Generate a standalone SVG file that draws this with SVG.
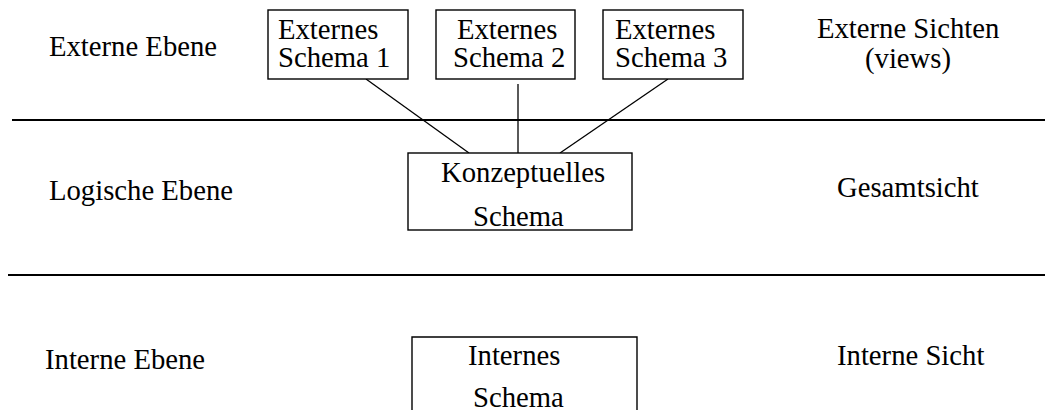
<svg xmlns="http://www.w3.org/2000/svg" width="1045" height="410" viewBox="0 0 1045 410">
  <style>
    text { font-family: "Liberation Serif", "Times New Roman", serif; font-size: 28.7px; fill: #000; }
    .box { fill: #fff; stroke: #000; stroke-width: 1.4; }
    .rule { stroke: #000; stroke-width: 2; }
    .link { stroke: #000; stroke-width: 1.3; fill: none; }
  </style>
  <rect width="1045" height="410" fill="#fff"/>

  <!-- level separators -->
  <g id="rules">
    <line class="rule" x1="12" y1="120" x2="1045" y2="120"/>
    <line class="rule" x1="8" y1="275" x2="1045" y2="275"/>
  </g>

  <!-- level labels (left) -->
  <g id="labels-left">
    <text x="49" y="56">Externe Ebene</text>
    <text x="49" y="200">Logische Ebene</text>
    <text x="45" y="369">Interne Ebene</text>
  </g>

  <!-- view labels (right) -->
  <g id="labels-right">
    <text x="817" y="38">Externe Sichten</text>
    <text x="865" y="68">(views)</text>
    <text x="837" y="197">Gesamtsicht</text>
    <text x="837" y="365">Interne Sicht</text>
  </g>

  <!-- connectors between external schemas and conceptual schema -->
  <g id="connectors">
    <line class="link" x1="366" y1="79" x2="469" y2="153"/>
    <line class="link" x1="518" y1="84" x2="518" y2="153"/>
    <line class="link" x1="668" y1="79" x2="560" y2="153"/>
  </g>

  <g id="ext1">
    <rect class="box" x="268" y="10" width="140" height="69"/>
    <text x="278" y="39">Externes</text>
    <text x="278" y="67">Schema 1</text>
  </g>

  <g id="ext2">
    <rect class="box" x="436" y="10" width="139" height="69"/>
    <text x="457" y="39">Externes</text>
    <text x="453" y="67">Schema 2</text>
  </g>

  <g id="ext3">
    <rect class="box" x="603" y="10" width="140" height="69"/>
    <text x="615" y="39">Externes</text>
    <text x="615" y="67">Schema 3</text>
  </g>

  <g id="conceptual">
    <rect class="box" x="408" y="153" width="224" height="77"/>
    <text x="441" y="182">Konzeptuelles</text>
    <text x="473" y="226">Schema</text>
  </g>

  <g id="internal">
    <path class="box" d="M412 420 V337 H637 V420"/>
    <text x="468" y="365">Internes</text>
    <text x="473" y="407">Schema</text>
  </g>
</svg>
